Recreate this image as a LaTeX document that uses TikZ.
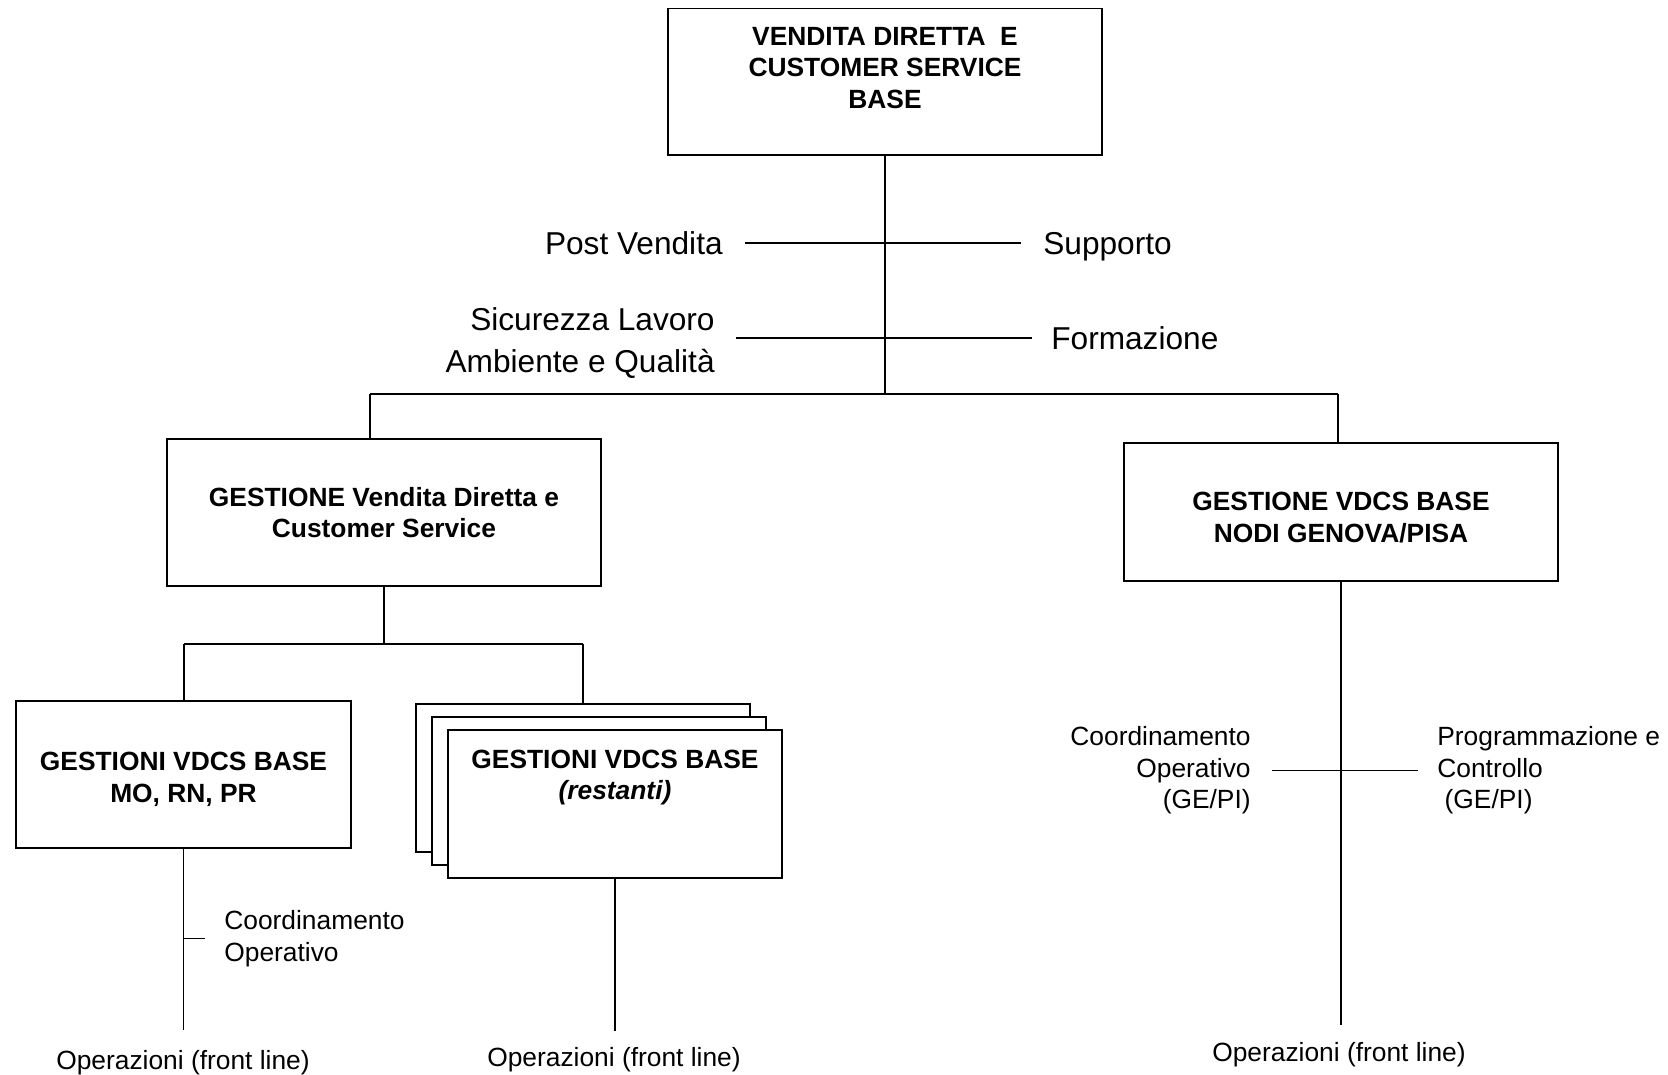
\documentclass[tikz,border=0pt]{standalone}
\usepackage{fontspec}
\setmainfont{Liberation Sans}
\usetikzlibrary{positioning}
\tikzset{
  ubox/.style={draw, line width=1.1pt, fill=white, inner sep=0pt},
  ttl/.style={font=\fontsize{15pt}{18pt}\selectfont\bfseries, align=center, inner sep=0pt},
  lab/.style={font=\fontsize{18pt}{23.5pt}\selectfont, inner sep=0pt, text height=13pt, text depth=0pt},
  slab/.style={font=\fontsize{15pt}{18pt}\selectfont, inner sep=0pt},
  ln/.style={line width=1.1pt},
}

\begin{document}
\begin{tikzpicture}
  \useasboundingbox (0,0) rectangle (33.36,-21.50);
  % vertice
  \node[ubox, minimum width=8.68cm, minimum height=2.93cm] (top) at (17.70,-1.635) {};
  \node[ttl] (toptxt) at ([yshift=-1.21cm]top.north) {VENDITA DIRETTA\ \ E\\CUSTOMER SERVICE\\BASE};
  % staff
  \node[lab, anchor=east] (postv) at (14.46,-4.86) {Post Vendita};
  \node[lab, anchor=west] (supp) at (20.86,-4.86) {Supporto};
  \node[lab, text height=, text depth=, anchor=east, align=right] (sic) at (14.30,-6.86) {Sicurezza Lavoro\\Ambiente e Qualità};
  \node[lab, anchor=west] (form) at (21.02,-6.76) {Formazione};
  \coordinate (bus) at (17.72,-7.88);
  \coordinate (busL) at (7.40,-7.88);
  \coordinate (busR) at (26.76,-7.88);
  \draw[ln] (top.south) -- (top.south |- bus);
  \draw[ln, shorten <=0.44cm, shorten >=0.44cm] (postv.east) -- (supp.west);
  \draw[ln, shorten <=0.42cm, shorten >=0.38cm] (form.west -| sic.east) -- (form.west);
  \draw[ln] (busL) -- (busR);
  % secondo livello
  \node[ubox, ttl, minimum width=8.68cm, minimum height=2.94cm] (gvd) at (7.68,-10.25)
       {GESTIONE Vendita Diretta e\\Customer Service};
  \node[ubox, minimum width=8.68cm, minimum height=2.76cm] (gge) at (26.82,-10.24) {};
  \node[ttl] (ggetxt) at ([yshift=-0.11cm]gge.center) {GESTIONE VDCS BASE\\NODI GENOVA/PISA};
  \draw[ln] (busL) -- (busL |- gvd.north);
  \draw[ln] (busR) -- (busR |- gge.north);
  % terzo livello
  \coordinate (sbL) at (3.68,-12.88);
  \coordinate (sbR) at (11.66,-12.88);
  \draw[ln] (gvd.south) -- (gvd.south |- sbL);
  \draw[ln] (sbL) -- (sbR);
  \node[ubox, minimum width=6.70cm, minimum height=2.94cm] (gmo) at (3.67,-15.49) {};
  \node[ttl] (gmotxt) at ([yshift=-0.10cm]gmo.center) {GESTIONI VDCS BASE\\MO, RN, PR};
  \node[ubox, minimum width=6.68cm, minimum height=2.96cm] (gr3) at (11.66,-15.56) {};
  \node[ubox, minimum width=6.68cm, minimum height=2.96cm] (gr2) at ([xshift=0.32cm,yshift=-0.26cm]gr3.center) {};
  \node[ubox, minimum width=6.68cm, minimum height=2.96cm] (gr1) at ([xshift=0.64cm,yshift=-0.52cm]gr3.center) {};
  \node[ttl] (gr1txt) at ([yshift=-0.97cm]gr1.north) {GESTIONI VDCS BASE\\\textit{(restanti)}};
  \draw[ln] (sbL) -- (sbL |- gmo.north);
  \draw[ln] (sbR) -- (sbR |- gr3.north);
  % operazioni
  \node[slab] (op1) at (3.66,-21.25) {Operazioni (front line)};
  \node[slab] (op2) at (12.28,-21.20) {Operazioni (front line)};
  \node[slab] (op3) at (26.78,-21.10) {Operazioni (front line)};
  \draw[ln] (gmo.south) -- ([yshift=0.40cm]gmo.south |- op1.north);
  \draw[ln] (gr1.south) -- ([yshift=0.32cm]gr1.south |- op2.north);
  \draw[ln] (gge.south) -- ([yshift=0.35cm]gge.south |- op3.north);
  % coordinamento
  \node[slab, anchor=west, align=left] (co1) at (4.48,-18.77) {Coordinamento\\Operativo};
  \draw[ln] (gmo.south |- co1.west) -- ([xshift=-0.38cm]co1.west);
  \node[slab, anchor=east, align=right] (co2) at (25.02,-15.41) {Coordinamento\\Operativo\\(GE/PI)};
  \node[slab, anchor=west, align=left] (pc2) at (28.74,-15.41) {Programmazione e\\Controllo\\\ (GE/PI)};
  \draw[ln, shorten <=0.42cm, shorten >=0.38cm] (co2.east) -- (co2.east -| pc2.west);
\end{tikzpicture}
\end{document}
